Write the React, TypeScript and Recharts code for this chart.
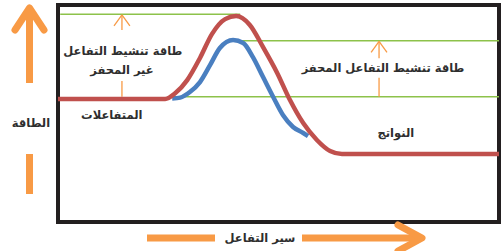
import React from 'react';
import { LineChart, Line, XAxis, YAxis, ReferenceLine, ReferenceArea, ReferenceDot } from 'recharts';

// Reaction progress (0..100) and energy (0..100) for the uncatalysed (red) path
const redX = [0, 24.3, 26.5, 29.3, 32.2, 34.9, 37.9, 40.4, 43.5, 46.5, 49.7, 52.6, 55.6, 58.7, 61.7, 64.4, 100];
const redE = [56.7, 56.7, 59.2, 65.4, 75.6, 86.6, 93.5, 94.9, 90.8, 80.6, 68.7, 56.2, 45.6, 37.8, 32.7, 31.3, 31.3];
// Catalysed (blue) path
const blueX = [25.9, 27.7, 29.9, 32.2, 34.5, 36.7, 39.7, 42.0, 44.2, 46.5, 48.8, 51.0, 53.3, 55.6, 56.7];
const blueE = [56.9, 57.3, 59.9, 64.5, 72.4, 80.2, 83.9, 82.5, 76.0, 66.8, 57.6, 49.3, 43.8, 41.0, 39.6];

// Energy levels (green reference lines)
const levelTop = 95.7;
const levelCat = 83.5;
const levelReact = 57.7;

const labels = {
  uncatTop: 'طاقة تنشيط التفاعل',
  uncatBottom: 'غير المحفز',
  reactants: 'المتفاعلات',
  cat: 'طاقة تنشيط التفاعل المحفز',
  products: 'النواتج',
  yAxis: 'الطاقة',
  xAxis: 'سير التفاعل',
};

const redData = redX.map((x, i) => ({ x, e: redE[i] }));
const blueData = blueX.map((x, i) => ({ x, e: blueE[i] }));

const ORANGE = '#f89a45';
const GREEN = '#8dc24a';
const FONT = "'DejaVu Sans', sans-serif";

const txt = (value: string) => ({
  value,
  position: 'center' as const,
  fill: '#2e2e2e',
  fontSize: 11.5,
  fontWeight: 'bold',
});

export default function App() {
  const uncatArrowX = 14.5;
  const catArrowX = 72.8;
  return (
    <div style={{ position: 'fixed', left: 0, top: 0, width: 501, height: 251, fontFamily: FONT, background: '#fff' }}>
      <LineChart width={501} height={251} margin={{ top: 5, right: 2, bottom: 29, left: 58 }}>
        <XAxis type="number" dataKey="x" domain={[0, 100]} hide allowDataOverflow />
        <YAxis type="number" domain={[0, 100]} hide allowDataOverflow />
        <ReferenceArea x1={0} x2={100} y1={0} y2={100} fill="none" stroke="#231f20" strokeWidth={4} ifOverflow="visible" />
        <ReferenceLine segment={[{ x: 0.5, y: levelTop }, { x: 41.3, y: levelTop }]} stroke={GREEN} strokeWidth={1.5} />
        <ReferenceLine segment={[{ x: 39.5, y: levelCat }, { x: 100, y: levelCat }]} stroke={GREEN} strokeWidth={1.5} />
        <ReferenceLine segment={[{ x: 25.9, y: levelReact }, { x: 100, y: levelReact }]} stroke={GREEN} strokeWidth={1.5} />
        {/* uncatalysed activation arrow */}
        <ReferenceLine segment={[{ x: uncatArrowX, y: levelTop - 0.3 }, { x: uncatArrowX, y: 88.5 }]} stroke={ORANGE} strokeWidth={1.3} />
        <ReferenceLine segment={[{ x: uncatArrowX - 1.8, y: levelTop - 5.3 }, { x: uncatArrowX, y: levelTop - 0.3 }]} stroke={ORANGE} strokeWidth={1.3} />
        <ReferenceLine segment={[{ x: uncatArrowX + 1.8, y: levelTop - 5.3 }, { x: uncatArrowX, y: levelTop - 0.3 }]} stroke={ORANGE} strokeWidth={1.3} />
        <ReferenceLine segment={[{ x: uncatArrowX, y: 65 }, { x: uncatArrowX, y: levelReact }]} stroke={ORANGE} strokeWidth={1.3} />
        {/* catalysed activation arrow */}
        <ReferenceLine segment={[{ x: catArrowX, y: levelCat - 0.3 }, { x: catArrowX, y: 75.5 }]} stroke={ORANGE} strokeWidth={1.3} />
        <ReferenceLine segment={[{ x: catArrowX - 1.8, y: levelCat - 5.3 }, { x: catArrowX, y: levelCat - 0.3 }]} stroke={ORANGE} strokeWidth={1.3} />
        <ReferenceLine segment={[{ x: catArrowX + 1.8, y: levelCat - 5.3 }, { x: catArrowX, y: levelCat - 0.3 }]} stroke={ORANGE} strokeWidth={1.3} />
        <ReferenceLine segment={[{ x: catArrowX, y: 66.5 }, { x: catArrowX, y: levelReact }]} stroke={ORANGE} strokeWidth={1.3} />
        <Line data={blueData} dataKey="e" type="monotone" stroke="#4a7fc0" strokeWidth={4.5} dot={false} isAnimationActive={false} />
        <Line data={redData} dataKey="e" type="monotone" stroke="#c0504d" strokeWidth={4.5} dot={false} isAnimationActive={false} />
        <ReferenceDot x={14.7} y={79} r={1} fill="none" stroke="none" label={txt(labels.uncatTop)} />
        <ReferenceDot x={14.5} y={70} r={1} fill="none" stroke="none" label={txt(labels.uncatBottom)} />
        <ReferenceDot x={12.2} y={49.3} r={1} fill="none" stroke="none" label={txt(labels.reactants)} />
        <ReferenceDot x={73.7} y={71} r={1} fill="none" stroke="none" label={txt(labels.cat)} />
        <ReferenceDot x={76.6} y={41} r={1} fill="none" stroke="none" label={txt(labels.products)} />
      </LineChart>
      <svg width={501} height={251} style={{ position: 'absolute', left: 0, top: 0, pointerEvents: 'none' }}>
        <g stroke={ORANGE} strokeWidth={7} fill="none">
          <line x1={29.5} y1={9} x2={29.5} y2={83} />
          <polyline points="15,30 29.5,8 44,30" strokeLinejoin="round" strokeLinecap="round" />
          <line x1={29.5} y1={154} x2={29.5} y2={194} />
          <line x1={147} y1={238} x2={215} y2={238} />
          <line x1={302} y1={238} x2={421} y2={238} />
          <polyline points="398,225 422,238 398,251" strokeLinejoin="round" strokeLinecap="round" />
        </g>
        <text x={31} y={123} textAnchor="middle" dominantBaseline="central" fill="#2e2e2e" fontSize={11.5} fontWeight="bold">{labels.yAxis}</text>
        <text x={260} y={238} textAnchor="middle" dominantBaseline="central" fill="#2e2e2e" fontSize={11.5} fontWeight="bold">{labels.xAxis}</text>
      </svg>
    </div>
  );
}
